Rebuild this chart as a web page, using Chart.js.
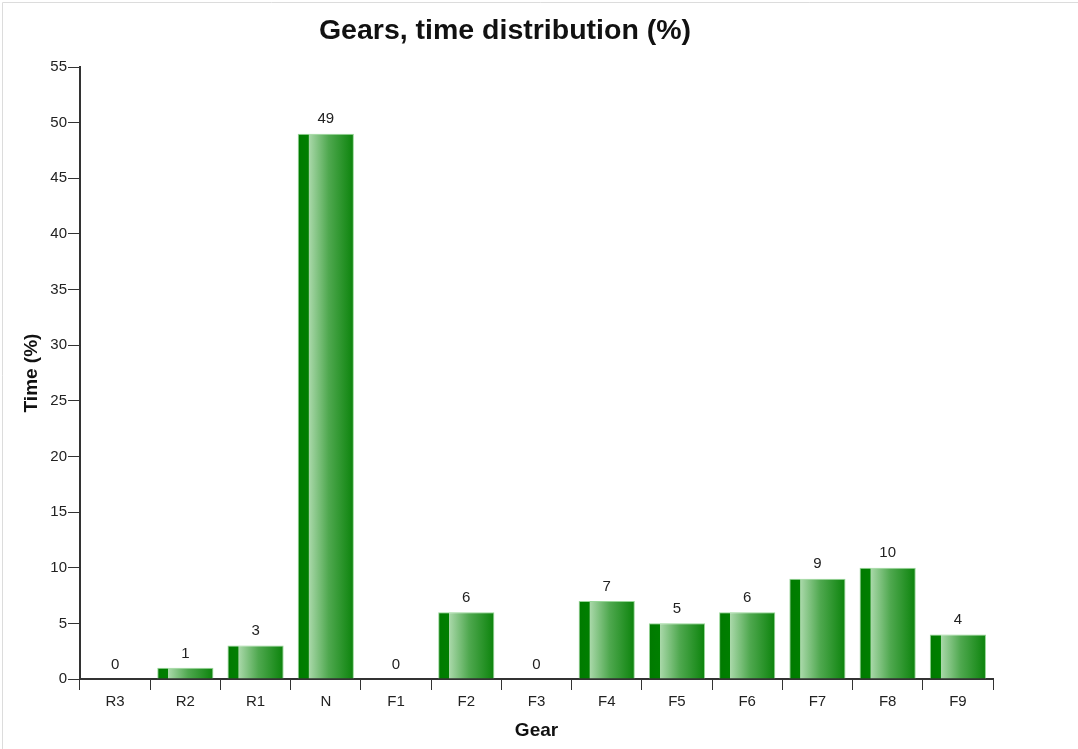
<!DOCTYPE html>
<html>
<head>
<meta charset="utf-8">
<script src="https://cdn.jsdelivr.net/npm/chart.js@4/dist/chart.umd.min.js"></script>
<style>
  html, body { margin: 0; padding: 0; background: #fff; }
  #wrap { width: 1078px; height: 749px; position: relative; }
</style>
</head>
<body>
<div id="wrap"><canvas id="gearChart" width="1078" height="749"></canvas></div>
<script>
const gears = ['R3', 'R2', 'R1', 'N', 'F1', 'F2', 'F3', 'F4', 'F5', 'F6', 'F7', 'F8', 'F9'];
const timeShare = [0, 1, 3, 49, 0, 6, 0, 7, 5, 6, 9, 10, 4];
const yTicks = [0, 5, 10, 15, 20, 25, 30, 35, 40, 45, 50, 55];

const ctx = document.getElementById('gearChart').getContext('2d');
const FONT = '"Liberation Sans", Arial, sans-serif';

// horizontal gradient per bar: dark strip on the left, light then back to dark
function barFill(context) {
    const chart = context.chart;
    const xs = chart.scales.x;
    if (!xs || !chart.chartArea) return '#008000';
    const cw = xs.width / gears.length;
    const cx = xs.getPixelForValue(context.dataIndex);
    const w = cw * 0.8;
    const g = chart.ctx.createLinearGradient(cx - w / 2, 0, cx + w / 2, 0);
    g.addColorStop(0, '#007a00');
    g.addColorStop(0.19, '#007f00');
    g.addColorStop(0.2, '#a9d8a9');
    g.addColorStop(0.55, '#4fa84f');
    g.addColorStop(1, '#0b830b');
    return g;
}

const valueLabels = {
    id: 'valueLabels',
    afterDatasetsDraw(chart) {
        const c = chart.ctx;
        const meta = chart.getDatasetMeta(0);
        c.save();
        c.font = '15px ' + FONT;
        c.fillStyle = '#222';
        c.textAlign = 'center';
        c.textBaseline = 'bottom';
        meta.data.forEach((bar, i) => {
            c.fillText(String(timeShare[i]), bar.x, bar.y - 7);
        });
        c.restore();
    }
};

const chartTitle = {
    id: 'chartTitle',
    beforeDraw(chart) {
        const c = chart.ctx;
        c.save();
        c.strokeStyle = '#dcdcdc';
        c.lineWidth = 1;
        c.beginPath();
        c.moveTo(2.5, chart.height);
        c.lineTo(2.5, 2.5);
        c.lineTo(chart.width, 2.5);
        c.stroke();
        c.font = 'bold 28.5px ' + FONT;
        c.fillStyle = '#111';
        c.textAlign = 'center';
        c.textBaseline = 'middle';
        c.fillText('Gears, time distribution (%)', 505, 31);
        c.restore();
    }
};

const gearChart = new Chart(ctx, {
    type: 'bar',
    data: {
        labels: gears,
        datasets: [{
            label: 'Time (%)',
            data: timeShare,
            backgroundColor: barFill,
            borderColor: 'rgba(140, 210, 140, 0.9)',
            borderWidth: (c) => (timeShare[c.dataIndex] === 0 ? 0 : 1),
            barPercentage: 1,
            categoryPercentage: 0.8
        }]
    },
    options: {
        responsive: false,
        animation: false,
        layout: { padding: { top: 67, right: 85, left: 0, bottom: 0 } },
        plugins: {
            legend: { display: false },
            tooltip: { enabled: false },
            title: { display: false }
        },
        scales: {
            x: {
                grid: { drawOnChartArea: false, drawTicks: true, tickLength: 11, color: '#333', offset: true },
                border: { color: '#333', width: 2 },
                ticks: { color: '#222', padding: 3, font: { size: 15, family: FONT } },
                title: {
                    display: true, text: 'Gear', color: '#111',
                    font: { size: 19, weight: 'bold', family: FONT },
                    padding: { top: 0, bottom: 7 }
                },
                afterFit(scale) { scale.height = 70; }
            },
            y: {
                min: 0,
                max: 55,
                afterBuildTicks(scale) { scale.ticks = yTicks.map(v => ({ value: v })); },
                grid: { drawOnChartArea: false, drawTicks: true, tickLength: 12, color: '#333' },
                border: { color: '#333', width: 2 },
                ticks: { color: '#222', padding: 1, font: { size: 15, family: FONT } },
                title: {
                    display: true, text: 'Time (%)', color: '#111',
                    font: { size: 19, weight: 'bold', family: FONT },
                    padding: { top: 20, bottom: 0 }
                },
                afterFit(scale) { scale.width = 80; }
            }
        }
    },
    plugins: [chartTitle, valueLabels]
});
</script>
</body>
</html>
